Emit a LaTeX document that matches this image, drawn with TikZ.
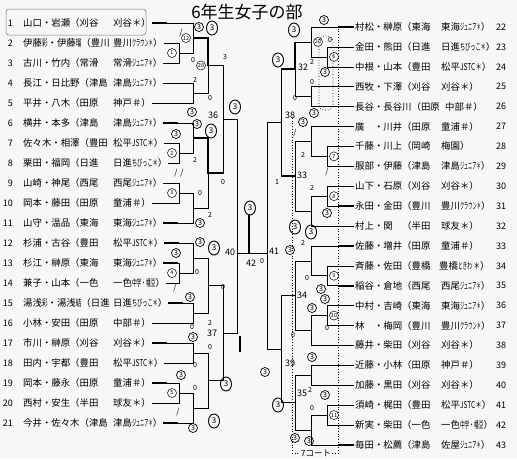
\documentclass[tikz,border=0pt]{standalone}
\usepackage{fontspec}
\setmainfont{Noto Sans CJK JP}
\usetikzlibrary{calc,shapes.geometric}

% squeezed kana and marks
\newcommand\cz[2][.45]{\scalebox{#1}[1]{#2}}
% one bracket: match coordinate, column, two feeders
\newcommand\bout[4]{%
  \path ($(#3)!.5!(#4)$) coordinate (tmp);
  \coordinate (#1) at (tmp -| #2);
  \draw[bline] (#3) -- (#3 -| #2) -- (#4 -| #2) -- (#4);
}

\tikzset{
  ent/.style={inner sep=1pt, font=\fontsize{9.4}{10}\selectfont},
  num/.style={inner sep=1pt, font=\fontsize{9}{10}\selectfont},
  bline/.style={line width=0.6pt},
  win/.style={line width=1.6pt},
  mno/.style={circle, draw, line width=0.5pt, inner sep=0pt, minimum size=9pt,
    fill=white, font=\fontsize{5.5}{6}\selectfont},
  rno/.style={inner sep=1pt, font=\fontsize{9}{9}\selectfont},
  sc/.style={circle, draw, line width=0.7pt, inner sep=0pt, minimum size=9pt,
    font=\fontsize{7}{7}\selectfont},
  bigsc/.style={ellipse, draw, line width=0.9pt, inner sep=0pt, minimum width=11pt,
    minimum height=14pt, font=\fontsize{8}{8}\selectfont},
  hnd/.style={inner sep=0pt, font=\fontsize{7}{7}\selectfont},
}

\begin{document}
\begin{tikzpicture}[x=1pt, y=-1pt]
\fill[black!3] (0,0) rectangle (517,459);
\useasboundingbox (0,0) rectangle (517,459);

\node[font=\fontsize{17}{17}\selectfont] (title) at (247,12) {6年生女子の部};

% bracket columns
\coordinate (L1) at (179,0);
\coordinate (L2) at (193,0);
\coordinate (L3) at (208,0);
\coordinate (L4) at (223,0);
\coordinate (L5) at (237,0);
\coordinate (R1) at (327,0);
\coordinate (R2) at (311,0);
\coordinate (R3) at (295,0);
\coordinate (R4) at (281,0);
\coordinate (R5) at (267,0);
\coordinate (fin) at (0,253);

% left entries
\foreach \k/\nm/\tm in {
  1/山口・岩瀬（刈谷/刈谷＊）,
  2/伊藤\cz[.6]{彩}・伊藤\cz[.6]{瑠}（豊川/豊川\cz{クラウン＊}）,
  3/古川・竹内（常滑/常滑\cz{ジュニア＊}）,
  4/長江・日比野（津島/津島\cz{ジュニア＊}）,
  5/平井・八木（田原/神戸＃）,
  6/横井・本多（津島/津島\cz{ジュニア＊}）,
  7/佐々木・相澤（豊田/松平\cz[.7]{JSTC＊}）,
  8/栗田・福岡（日進/日進\cz[.55]{ちびっこ＊}）,
  9/山崎・神尾（西尾/西尾\cz{ジュニア＊}）,
  10/岡本・藤田（田原/童浦＃）,
  11/山守・温品（東海/東海\cz{ジュニア＊}）,
  12/杉浦・古谷（豊田/松平\cz[.7]{JSTC＊}）,
  13/杉江・榊原（東海/東海\cz{ジュニア＊}）,
  14/兼子・山本（一色/一色\cz[.5]{中学・幡豆}）,
  15/湯浅\cz[.6]{彩}・湯浅\cz[.6]{結}（日進/日進\cz[.55]{ちびっこ＊}）,
  16/小林・安田（田原/中部＃）,
  17/市川・榊原（刈谷/刈谷＊）,
  18/田内・宇都（豊田/松平\cz[.7]{JSTC＊}）,
  19/岡本・藤永（田原/童浦＃）,
  20/西村・安生（半田/球友＊）,
  21/今井・佐々木（津島/津島\cz{ジュニア＊}）}{
  \node[num, anchor=east] (n\k) at (14, {23+20*(\k-1)}) {\k};
  \node[ent, anchor=west] (p\k) at (22, {23+20*(\k-1)}) {\nm};
  \node[ent, anchor=west] (t\k) at (112, {23+20*(\k-1)}) {\tm};
  \coordinate (e\k) at (t\k.east);
}

% right entries
\foreach \k/\nm/\tm/\tx in {
  22/村松・榊原（東海/東海\cz{ジュニア＊}）/440,
  23/金田・熊田（日進/日進\cz[.55]{ちびっこ＊}）/440,
  24/中根・山本（豊田/松平\cz[.7]{JSTC＊}）/440,
  25/西牧・下澤（刈谷/刈谷＊）/440,
  26/長谷・長谷川（田原/中部＃）/444,
  27/廣　・川井（田原/童浦＃）/440,
  28/千藤・川上（岡崎/梅園）/440,
  29/服部・伊藤（津島/津島\cz{ジュニア＊}）/440,
  30/山下・石原（刈谷/刈谷＊）/440,
  31/永田・金田（豊川/豊川\cz{クラウン＊}）/440,
  32/村上・関　（半田/球友＊）/440,
  33/佐藤・増井（田原/童浦＃）/440,
  34/斉藤・佐田（豊橋/豊橋\cz[.5]{ときわ}\cz[.7]{ ＊}）/438,
  35/稲谷・倉地（西尾/西尾\cz{ジュニア＊}）/440,
  36/中村・吉崎（東海/東海\cz{ジュニア＊}）/440,
  37/林　・梅岡（豊川/豊川\cz{クラウン＊}）/440,
  38/藤井・柴田（刈谷/刈谷＊）/440,
  39/近藤・小林（田原/神戸＃）/440,
  40/加藤・黒田（刈谷/刈谷＊）/440,
  41/須崎・梶田（豊田/松平\cz[.7]{JSTC＊}）/440,
  42/新実・柴田（一色/一色\cz[.5]{中学・幡豆}）/440,
  43/毎田・松薦（津島/佐屋\cz{ジュニア＊}）/440}{
  \node[num, anchor=west] (n\k) at (495, {27+19.9*(\k-22)}) {\k};
  \node[ent, anchor=west] (p\k) at (354, {27+19.9*(\k-22)}) {\nm};
  \node[ent, anchor=west] (t\k) at (\tx, {27+19.9*(\k-22)}) {\tm};
  \coordinate (e\k) at (p\k.west);
}

% left half
\bout{m1}{L1}{e2}{e3}
\bout{m12}{L2}{e1}{m1}
\bout{m13}{L2}{e4}{e5}
\bout{m28}{L3}{m12}{m13}
\bout{m2}{L1}{e7}{e8}
\bout{m14}{L2}{e6}{m2}
\bout{m3}{L1}{e9}{e10}
\bout{m15}{L2}{m3}{e11}
\bout{m29}{L3}{m14}{m15}
\bout{m36}{L4}{m28}{m29}
\bout{m4}{L1}{e13}{e14}
\bout{m16}{L2}{e12}{m4}
\bout{m17}{L2}{e15}{e16}
\bout{m30}{L3}{m16}{m17}
\bout{m18}{L2}{e17}{e18}
\bout{m5}{L1}{e19}{e20}
\bout{m19}{L2}{m5}{e21}
\bout{m31}{L3}{m18}{m19}
\bout{m37}{L4}{m30}{m31}
\bout{m40}{L5}{m36}{m37}

% right half
\bout{m6}{R1}{e23}{e24}
\bout{m20}{R2}{e22}{m6}
\bout{m21}{R2}{e25}{e26}
\bout{m32}{R3}{m20}{m21}
\bout{m7}{R1}{e28}{e29}
\bout{m22}{R2}{e27}{m7}
\bout{m8}{R1}{e30}{e31}
\bout{m23}{R2}{m8}{e32}
\bout{m33}{R3}{m22}{m23}
\bout{m38}{R4}{m32}{m33}
\bout{m9}{R1}{e34}{e35}
\bout{m24}{R2}{e33}{m9}
\bout{m10}{R1}{e36}{e37}
\bout{m25}{R2}{m10}{e38}
\bout{m34}{R3}{m24}{m25}
\bout{m26}{R2}{e39}{e40}
\bout{m11}{R1}{e41}{e42}
\bout{m27}{R2}{m11}{e43}
\bout{m35}{R3}{m26}{m27}
\bout{m39}{R4}{m34}{m35}
\bout{m41}{R5}{m38}{m39}

% final
\draw[bline] (fin -| L5) -- (fin -| R5);

% winners marked by pen
\foreach \k in {1,6,11,12,13,15,17,19,21}
  \draw[win] (e\k) -- ++(15,0);
\foreach \k in {22,26,27,31,33,35,39,43}
  \draw[win] (e\k) -- ++(-16,0);
\draw[win] (m12) -- (m12 -| L3) -- (m28) -- (m28 -| L4);
\draw[win] (m14) -- (m14 -| L3) -- (m29) -- (m29 -| L4);
\draw[win] (m20 -| R3) -- (m32) -- (m32 -| R4);
\draw[win] (m33) -- (m33 -| R4);
\draw[win] (249,214) -- (249,253);
\draw[win] (240,336) -- (240,352);

% match numbers
\foreach \m in {1,...,5,12,...,19,28,...,31}
  \node[mno] (c\m) at ($(m\m)+(-7,0)$) {\m};
\foreach \m in {6,...,11,20,...,27}
  \node[mno] (c\m) at ($(m\m)+(7,0)$) {\m};
\node[rno] (r36) at (213,115) {36};
\node[rno] (r37) at (212,333) {37};
\node[rno] (r40) at (230,252) {40};
\node[rno] (r41) at (274,251) {41};
\node[rno] (r42) at (251,263) {42};
\node[rno] (r32) at (303,67) {32};
\node[rno] (r33) at (302,175) {33};
\node[rno] (r34) at (302,295) {34};
\node[rno] (r35) at (302,393) {35};
\node[rno] (r38) at (290,115) {38};
\node[rno] (r39) at (290,363) {39};

% scores written by hand
\foreach \x/\y [count=\i] in {199/27, 192/112, 197/124, 176/134, 200/223,
    200/242, 176/253, 190/297, 193/337, 181/375, 193/428, 265/372,
    324/20, 325/72, 314/113, 303/122, 327/213, 290/250, 321/289,
    325/299, 312/308, 312/357, 325/395, 295/438, 309/441}
  \node[sc] (s\i) at (\x,\y) {3};
\foreach \x/\y [count=\i] in {212/28, 235/107, 211/131, 250/208, 214/248,
    226/384, 214/421, 278/405, 294/30, 278/60, 295/227, 311/232}
  \node[bigsc] (b\i) at (\x,\y) {3};
\foreach \x/\y [count=\i] in {193/60, 210/98, 223/182, 200/193, 330/40,
    312/82, 295/98, 197/272, 223/287, 192/327, 210/347, 195/365, 195/388,
    307/278, 327/328, 293/335, 312/408, 262/261}
  \node[hnd] (z\i) at (\x,\y) {0};
\foreach \x/\y [count=\i] in {195/80, 195/160, 210/215, 210/323, 312/62,
    303/155, 312/188, 303/243, 310/390}
  \node[hnd] (w\i) at (\x,\y) {2};
\node[hnd] (h1) at (225,57) {3};
\node[hnd] (h2) at (277,182) {1};
\foreach \x/\y [count=\i] in {181/33, 176/173, 182/173, 295/133, 327/172,
    175/288, 178/412}
  \node[hnd, font=\fontsize{8}{8}\selectfont] (k\i) at (\x,\y) {/};

% pen box round entry 1, court 7
\draw[black!55, line width=0.5pt, rounded corners=3pt] (6,9) rectangle (146,35);
\draw[dotted, line width=0.7pt, rounded corners=5pt] (319,36) rectangle (333,110);
\draw[dotted, line width=0.7pt] (292,118) -- (292,453) -- (338,453) -- (338,28);
\node[fill=black!3, inner sep=1pt, font=\fontsize{8.5}{9}\selectfont] (court) at (316,453) {7コート};
\end{tikzpicture}
\end{document}
